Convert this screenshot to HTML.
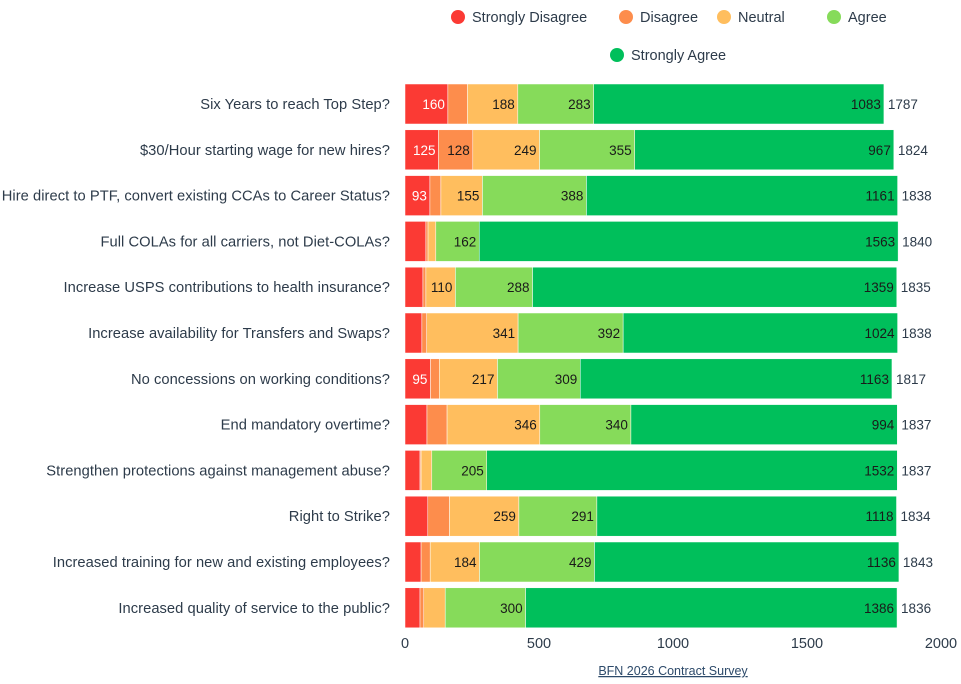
<!DOCTYPE html>
<html><head><meta charset="utf-8"><style>
body{margin:0;background:#fff;font-family:"Liberation Sans",sans-serif;}
svg text{font-family:"Liberation Sans",sans-serif;}
</style></head><body>
<svg id="chart" width="961" height="679"></svg>
<script>
const categories=["Six Years to reach Top Step?","$30/Hour starting wage for new hires?","Hire direct to PTF, convert existing CCAs to Career Status?","Full COLAs for all carriers, not Diet-COLAs?","Increase USPS contributions to health insurance?","Increase availability for Transfers and Swaps?","No concessions on working conditions?","End mandatory overtime?","Strengthen protections against management abuse?","Right to Strike?","Increased training for new and existing employees?","Increased quality of service to the public?"];
const stronglyDisagree=[160,125,93,78,67,63,95,82,56,85,60,56];
const disagree=[73,128,41,8,11,18,33,75,4,81,34,14];
const neutral=[188,249,155,29,110,341,217,346,40,259,184,80];
const agree=[283,355,388,162,288,392,309,340,205,291,429,300];
const stronglyAgree=[1083,967,1161,1563,1359,1024,1163,994,1532,1118,1136,1386];
const seriesNames=["Strongly Disagree","Disagree","Neutral","Agree","Strongly Agree"];
const xTicks=[0,500,1000,1500,2000];

const NS="http://www.w3.org/2000/svg";
const svg=document.getElementById('chart');
const colors=["#fb3a34","#fd8d4c","#ffbe5e","#86db5a","#00bf5b"];
const slugs=["strongly-disagree","disagree","neutral","agree","strongly-agree"];
const series=[stronglyDisagree,disagree,neutral,agree,stronglyAgree];
const x0=405,x1=941,xMax=2000;
const xs=v=>x0+v*(x1-x0)/xMax;
const yTop=84,step=45.8,barH=40;
const ys=i=>yTop+i*step;
function mk(tag,attrs,parent){const e=document.createElementNS(NS,tag);for(const k in attrs)e.setAttribute(k,attrs[k]);(parent||svg).appendChild(e);return e;}
const legPos=[[458,17],[626,17],[724,17],[834,17],[617,55]];
seriesNames.forEach((n,k)=>{
  const g=mk('g',{});
  
  
  mk('circle',{cx:legPos[k][0],cy:legPos[k][1],r:7,fill:colors[k]},g);
  const t=mk('text',{x:legPos[k][0]+14,y:legPos[k][1]+5,'font-size':14.5,fill:'#2d3b4a'},g);t.textContent=n;
});
xTicks.forEach(v=>{
  const t=mk('text',{x:xs(v),y:648,'font-size':14.5,fill:'#2d3b4a','text-anchor':'middle'});
  
  
  t.textContent=v;
});
categories.forEach((c,i)=>{
  const y=ys(i);
  const lab=mk('text',{x:390,y:y+barH/2+5,'font-size':14.7,fill:'#2d3b4a','text-anchor':'end','letter-spacing':0.05});
  
  
  lab.textContent=c;
  let cum=0;
  series.forEach((s,k)=>{
    const v=s[i];const xa=xs(cum),xb=xs(cum+v);cum+=v;
    const r=mk('rect',{x:xa,y:y,width:Math.max(0,xb-xa),height:barH,fill:colors[k],stroke:'#fff','stroke-width':0.5});
    
    
    if(xb-xa>=24){
      const t=mk('text',{x:xb-3,y:y+barH/2+5,'font-size':13.5,fill:k==0?'#fff':'#1a1a1a','text-anchor':'end'});
      
      
      t.textContent=v;
    }
  });
  const tt=mk('text',{x:xs(cum)+4,y:y+barH/2+5,'font-size':13.5,fill:'#2d3b4a'});
  
  
  tt.textContent=cum;
});
const f=mk('text',{x:673,y:675,'font-size':12.5,fill:'#2d4a6a','text-anchor':'middle','text-decoration':'underline'});


f.textContent="BFN 2026 Contract Survey";
</script>
</body></html>
